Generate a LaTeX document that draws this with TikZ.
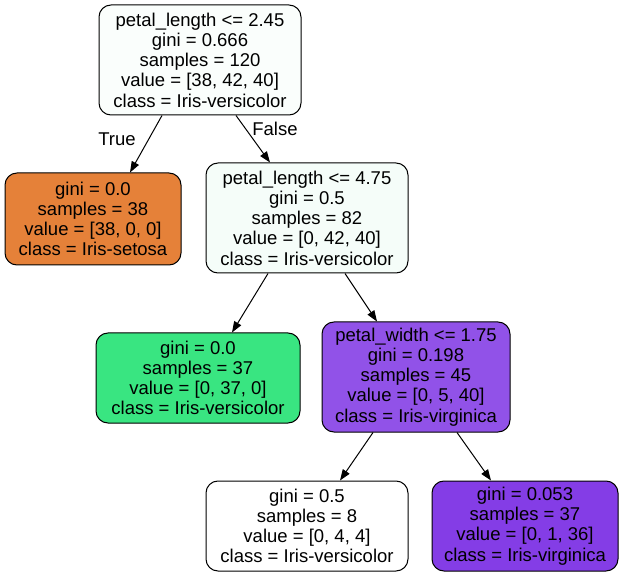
\documentclass[tikz,border=0pt]{standalone}
\usepackage{fontspec}
\setmainfont{Liberation Sans}
\usetikzlibrary{arrows.meta}
\definecolor{rootc}{HTML}{FAFEFC}
\definecolor{ntwoc}{HTML}{F5FDF9}
\definecolor{setc}{HTML}{E58139}
\definecolor{versc}{HTML}{39E581}
\definecolor{pwc}{HTML}{9152E8}
\definecolor{virgc}{HTML}{843DE6}
\tikzset{
  tnode/.style={draw=black, line width=1pt, rounded corners=12pt, align=center,
    inner sep=0pt, font=\fontsize{18.5}{20.2}\selectfont, text=black},
  arr/.style={line width=1pt, -{Triangle[length=11pt,width=8pt]}},
  elab/.style={font=\fontsize{18.5}{20.2}\selectfont, inner sep=0pt}
}
\begin{document}
\begin{tikzpicture}[x=1pt,y=-1pt]
\path[use as bounding box, fill=white] (0,0) rectangle (624,577);
\node[tnode, fill=rootc, minimum width=202pt, minimum height=110pt] (root) at (200,60)
  {petal\_length <= 2.45\\gini = 0.666\\samples = 120\\value = [38, 42, 40]\\class = Iris-versicolor};
\node[tnode, fill=setc, minimum width=176pt, minimum height=92pt] (set) at (93,219)
  {gini = 0.0\\samples = 38\\value = [38, 0, 0]\\class = Iris-setosa};
\node[tnode, fill=ntwoc, minimum width=202pt, minimum height=110pt] (ntwo) at (307,218)
  {petal\_length <= 4.75\\gini = 0.5\\samples = 82\\value = [0, 42, 40]\\class = Iris-versicolor};
\node[tnode, fill=versc, minimum width=204pt, minimum height=90pt] (vers) at (198,378)
  {gini = 0.0\\samples = 37\\value = [0, 37, 0]\\class = Iris-versicolor};
\node[tnode, fill=pwc, minimum width=188pt, minimum height=110pt] (pw) at (416,377)
  {petal\_width <= 1.75\\gini = 0.198\\samples = 45\\value = [0, 5, 40]\\class = Iris-virginica};
\node[tnode, fill=white, minimum width=202pt, minimum height=90pt] (gfive) at (307,526)
  {gini = 0.5\\samples = 8\\value = [0, 4, 4]\\class = Iris-versicolor};
\node[tnode, fill=virgc, minimum width=186pt, minimum height=90pt] (virg) at (525,526)
  {gini = 0.053\\samples = 37\\value = [0, 1, 36]\\class = Iris-virginica};
\draw[arr] ([xshift=-38pt]root.south) -- ([xshift=37pt]set.north);
\draw[arr] ([xshift=36pt]root.south) -- ([xshift=-37pt]ntwo.north);
\draw[arr] ([xshift=-39pt]ntwo.south) -- ([xshift=34pt]vers.north);
\draw[arr] ([xshift=38pt]ntwo.south) -- ([xshift=-39pt]pw.north);
\draw[arr] ([xshift=-43pt]pw.south) -- ([xshift=33pt]gfive.north);
\draw[arr] ([xshift=41pt]pw.south) -- ([xshift=-34pt]virg.north);
\node[elab] (ltrue) at (117,139) {True};
\node[elab] (lfalse) at (275,129) {False};
\end{tikzpicture}
\end{document}
